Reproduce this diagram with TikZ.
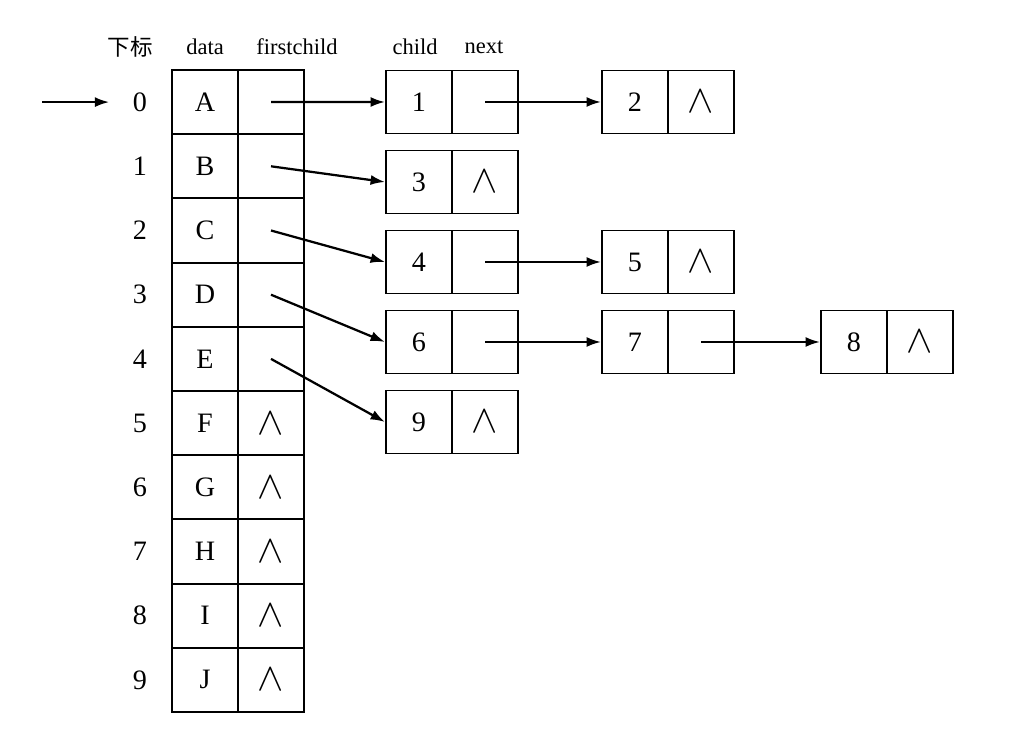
\documentclass[tikz,border=0pt]{standalone}
\usepackage{fontspec}
\usepackage{graphicx}
\usepackage{tikz}
\usetikzlibrary{arrows.meta}
\setmainfont{Liberation Serif}
\newfontfamily\cjk{Noto Sans CJK SC}
\def\cellw{1.65cm}
\def\rowh{1.605cm}
\newcommand{\nil}{\scalebox{1.35}{$\wedge$}}

\begin{document}
\begin{tikzpicture}[x=0.025cm,y=-0.025cm,line width=1.4pt]
    \tikzstyle{cell}=[draw,rectangle,minimum width=\cellw,inner sep=0pt,font=\fontsize{20}{22}\selectfont]
    \tikzstyle{table cell}=[cell,minimum height=\rowh]
    \tikzstyle{list cell}=[cell,minimum height=1.575cm]
    \tikzstyle{head}=[font=\fontsize{16}{18}\selectfont]
    \tikzstyle{index}=[font=\fontsize{20}{22}\selectfont]
    \tikzstyle{link}=[-{Latex[length=0.36cm,width=0.25cm]},line width=1.6pt]
    \useasboundingbox (0,0) rectangle (1032,740);

    % Draw the header line
    \node[head] (h-idx) at (130,47) {\cjk 下标};
    \node[head] (h-data) at (205,47) {data};
    \node[head] (h-first) at (297,47) {firstchild};
    \node[head] (h-child) at (415,47) {child};
    \node[head] (h-next) at (484,47) {next};

    % Draw the table rows
    \foreach \name / \val in {0/A,1/B,2/C,3/D,4/E,5/F,6/G,7/H,8/I,9/J} {
        \node[index] (I-\name) at (140,102.1+64.2*\name) {\name};
        \node[table cell] (D-\name) at (205,102.1+64.2*\name) {\val};
        \node[table cell] (F-\name) at (271,102.1+64.2*\name) {};
    }
    \foreach \name in {5,...,9}
        \node[index] at (F-\name) {\nil};

    % Draw the child list nodes
    \foreach \name / \x / \y in {1/386/102,2/602/102,3/386/182,4/386/262,
                                 5/602/262,6/386/342,7/602/342,8/821/342,9/386/422} {
        \node[list cell] (C-\name) at (\x+33,\y) {\name};
        \node[list cell] (N-\name) at (\x+99,\y) {};
    }
    \foreach \name in {2,3,5,8,9}
        \node[index] at (N-\name) {\nil};

    % Connect the table with the first child of every row
    \coordinate (start) at (42,102.1);
    \draw[link,shorten >=0.45cm] (start) -- (I-0.west);
    \foreach \source / \dest in {0/1,1/3,2/4,3/6,4/9}
        \draw[link] (F-\source.center) -- (C-\dest.west);

    % Connect the child nodes along each list
    \foreach \source / \dest in {1/2,4/5,6/7,7/8}
        \draw[link] (N-\source.center) -- (C-\dest.west);
\end{tikzpicture}
\end{document}
